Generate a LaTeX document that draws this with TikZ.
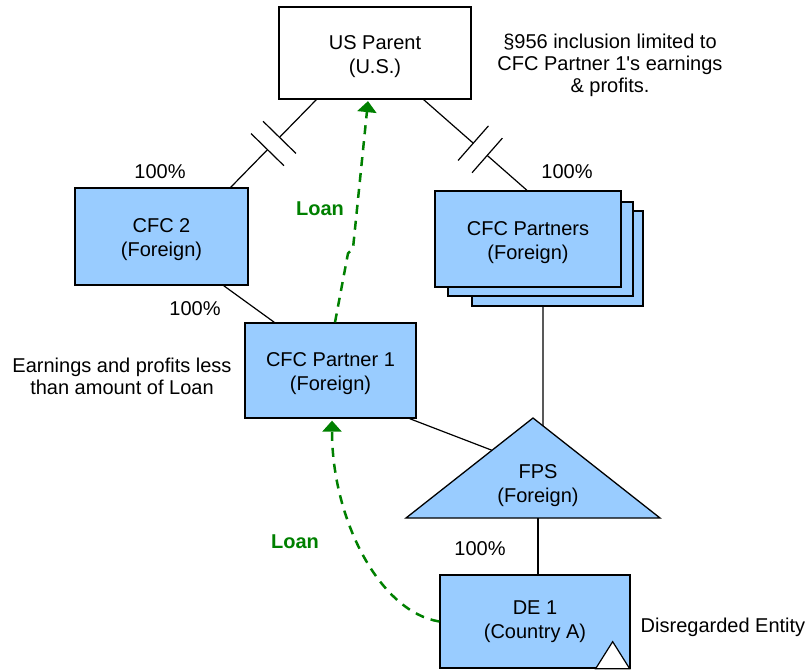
\documentclass[tikz,border=0pt]{standalone}
\usepackage{fontspec}
\setmainfont{Liberation Sans}
\usetikzlibrary{calc,arrows.meta}
\definecolor{boxblue}{HTML}{99CCFF}
\definecolor{loangreen}{HTML}{008000}
\newcommand\upstrut{\rule{0pt}{20.5pt}}
\tikzset{
 ent/.style={draw=black, line width=1.3pt, fill=boxblue, align=center, inner sep=0pt, font=\fontsize{20}{24}\selectfont},
 lbl/.style={align=center, inner sep=0pt, font=\fontsize{20}{22}\selectfont},
 link/.style={draw=black, line width=1.2pt},
 tickmark/.style={draw=black, line width=1.2pt},
 loan/.style={draw=loangreen, line width=2.5pt, dash pattern=on 9pt off 7pt, -{Triangle[width=19pt,length=11pt]}},
 loanlbl/.style={text=loangreen, inner sep=0pt, font=\fontsize{20}{22}\selectfont\bfseries},
}
\begin{document}
\begin{tikzpicture}[x=1pt,y=-1pt]
\useasboundingbox (0,0) rectangle (808,669);
% entities
\node[ent, fill=white, minimum width=192pt, minimum height=92pt] (usp) at (375,53) {\upstrut US Parent\\(U.S.)};
\node[ent, minimum width=173pt, minimum height=97pt] (cfc2) at (161.5,236.5) {\upstrut CFC 2\\(Foreign)};
\node[ent, minimum width=171pt, minimum height=95pt] (cfcp3) at (557.5,258.5) {};
\node[ent, minimum width=185pt, minimum height=94pt] (cfcp2) at (540.5,249) {};
\node[ent, minimum width=186pt, minimum height=96pt] (cfcp) at (528,239) {\upstrut CFC Partners\\(Foreign)};
\node[ent, minimum width=171pt, minimum height=95pt] (cfc1) at (330.5,370.5) {\upstrut CFC Partner 1\\(Foreign)};
\node[ent, minimum width=190pt, minimum height=93pt] (de1) at (535,621.5) {DE 1\\(Country A)};
\draw[fill=white, line width=1.2pt] ([xshift=-35pt]de1.south east) -- ([xshift=-18pt,yshift=27pt]de1.south east) -- ([xshift=-1pt]de1.south east) -- cycle;
% FPS triangle
\coordinate (fpsT) at (533,418);
\coordinate (fpsL) at (406,518);
\coordinate (fpsR) at (660,518);
\draw[fill=boxblue, line width=1.3pt, line join=miter] (fpsT) -- (fpsL) -- (fpsR) -- cycle;
\node[lbl, font=\fontsize{20}{24}\selectfont] (fps) at (538,485.5) {FPS\\(Foreign)};
\coordinate (fpsJ) at ($(fpsT)!0.079!(fpsR)$);
\coordinate (fpsK) at ($(fpsT)!0.323!(fpsL)$);
\coordinate (fpsB) at (538,518);
% connectors with break marks
\coordinate (a1) at ([xshift=38pt]usp.south west);
\coordinate (b1) at ([xshift=-18pt]cfc2.north east);
\coordinate (t1) at ($(a1)!0.43!(b1)$);
\coordinate (t2) at ($(a1)!0.57!(b1)$);
\draw[link] (a1) -- (t1);
\draw[link] (t2) -- (b1);
\draw[tickmark] ($(t1)!23pt!90:(b1)$) -- ($(t1)!23pt!-90:(b1)$);
\draw[tickmark] ($(t2)!23pt!90:(b1)$) -- ($(t2)!23pt!-90:(b1)$);
\coordinate (a2) at ([xshift=-48pt]usp.south east);
\coordinate (b2) at ([xshift=-1pt]cfcp.north);
\coordinate (t3) at ($(a2)!0.48!(b2)$);
\coordinate (t4) at ($(a2)!0.615!(b2)$);
\draw[link] (a2) -- (t3);
\draw[link] (t4) -- (b2);
\draw[tickmark] ($(t3)!23pt!90:(b2)$) -- ($(t3)!23pt!-90:(b2)$);
\draw[tickmark] ($(t4)!23pt!90:(b2)$) -- ($(t4)!23pt!-90:(b2)$);
% other connectors
\draw[link] ([xshift=-25pt]cfc2.south east) -- ([xshift=30pt]cfc1.north west);
\draw[link] ([xshift=-14.5pt]cfcp3.south) -- (fpsJ);
\draw[link] ([xshift=-7pt]cfc1.south east) -- (fpsK);
\draw[link] (fpsB) -- (fpsB |- de1.north);
% loans
\draw[loan] ([xshift=4.5pt]cfc1.north) -- ++(13,-69) -- ++(5,-5) -- ([xshift=-7pt,yshift=-1.5pt]usp.south);
\draw[loan] (de1.west) .. controls (380,612) and (332,520) .. ([xshift=1.5pt,yshift=-2pt]cfc1.south);
\node[loanlbl] (loan1) at (320,209) {Loan};
\node[loanlbl] (loan2) at (295,542) {Loan};
% labels
\node[lbl] (p1) at (160,172) {100\%};
\node[lbl] (p2) at (567,172) {100\%};
\node[lbl] (p3) at (195,309) {100\%};
\node[lbl] (p4) at (480,549) {100\%};
\node[lbl] (note) at (610,65.5) {§956 inclusion limited to\\CFC Partner 1\XeTeXglyph\XeTeXcharglyph"0027 s earnings\\\& profits.};
\node[lbl] (ep) at (122,376) {Earnings and profits less\\than amount of Loan};
\node[lbl] (dis) at (723,627) {Disregarded Entity};
\end{tikzpicture}
\end{document}
